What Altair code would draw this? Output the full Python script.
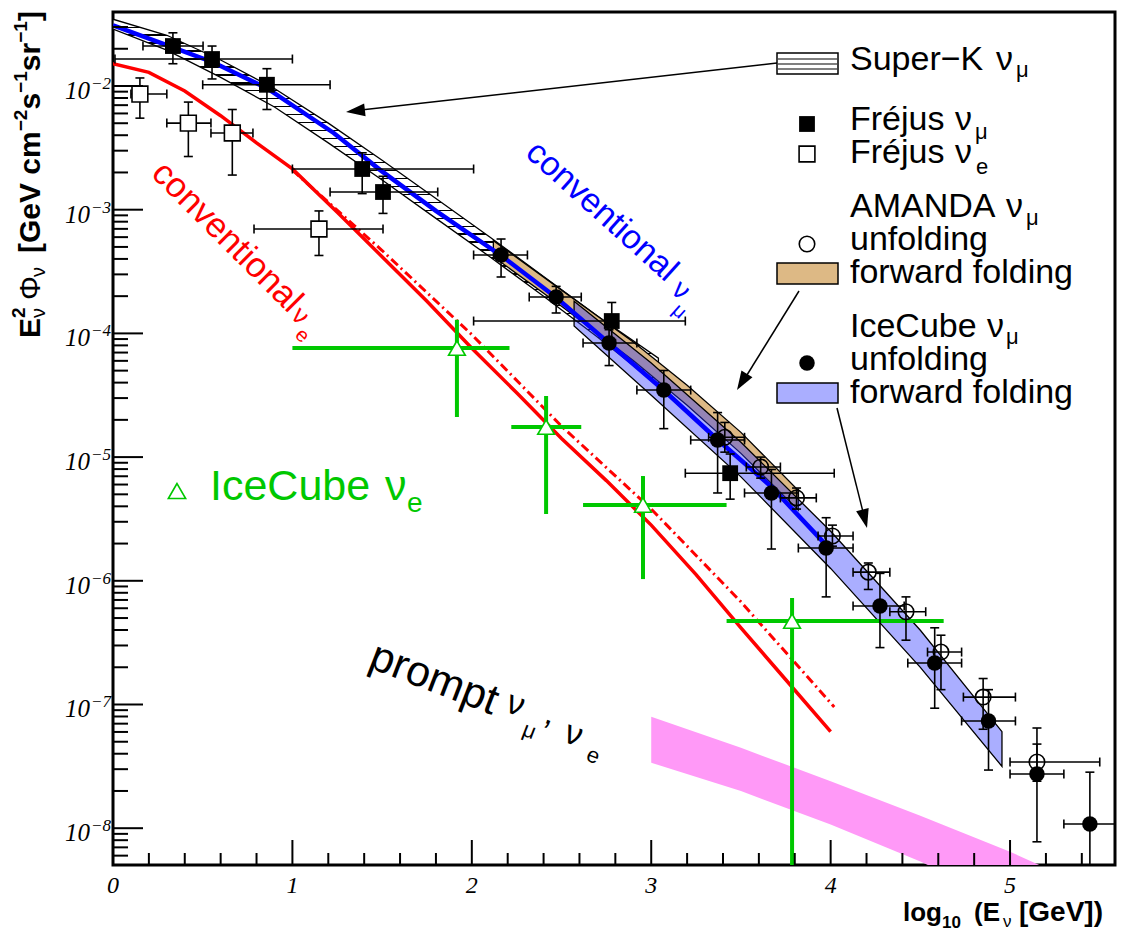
import altair as alt
import pandas as pd

# ---------------- values ----------------
# x: log10(E / GeV) ; y: log10(E^2 Phi [GeV cm^-2 s^-1 sr^-1])

# Super-K nu_mu band
sk_x = [0.0, 0.3, 0.6, 0.9, 1.2, 1.5, 1.8, 2.1, 2.4, 2.7, 3.04]
sk_hi = [-1.46, -1.59, -1.79, -2.02, -2.30, -2.60, -2.91, -3.22, -3.54, -3.86, -4.20]
sk_lo = [-1.54, -1.71, -1.93, -2.17, -2.46, -2.76, -3.07, -3.38, -3.70, -4.03, -4.42]

# AMANDA nu_mu forward folding band
amf_x = [2.12, 2.5, 2.9, 3.2, 3.5, 3.82]
amf_hi = [-3.25, -3.65, -4.07, -4.42, -4.80, -5.27]
amf_lo = [-3.38, -3.78, -4.22, -4.58, -4.97, -5.43]

# IceCube nu_mu forward folding band
icf_x = [2.57, 3.0, 3.5, 4.0, 4.5, 4.955]
icf_hi = [-3.74, -4.24, -4.88, -5.60, -6.40, -7.22]
icf_lo = [-3.94, -4.50, -5.16, -5.90, -6.70, -7.50]

# prompt nu_mu, nu_e band
pr_x = [3.0, 3.5, 4.0, 4.5, 5.0, 5.5]
pr_hi = [-7.10, -7.35, -7.62, -7.90, -8.19, -8.52]
pr_lo = [-7.47, -7.70, -7.97, -8.27, -8.60, -8.95]

# conventional nu_mu (blue)
cm_x = [0.0, 0.33, 0.56, 0.86, 1.23, 1.49, 1.8, 2.163, 2.47, 2.765, 3.07, 3.37, 3.67, 4.0]
cm_y = [-1.51, -1.685, -1.81, -2.02, -2.38, -2.68, -3.01, -3.37, -3.71, -4.08, -4.46, -4.86, -5.24, -5.75]

# conventional nu_e (red solid)
ce_x = [0.0, 0.2, 0.4, 0.6, 0.8, 1.0, 1.25, 1.5, 1.75, 2.0, 2.25, 2.5, 2.75, 3.0, 3.25, 3.5, 3.75, 4.0]
ce_y = [-1.82, -1.89, -2.04, -2.24, -2.46, -2.67, -3.02, -3.38, -3.74, -4.12, -4.48, -4.85, -5.19, -5.55,
        -5.95, -6.38, -6.80, -7.22]

# conventional nu_e (red dash-dot)
cd_x = [1.0, 1.5, 2.0, 2.5, 3.0, 3.5, 4.02]
cd_y = [-2.68, -3.33, -4.01, -4.75, -5.42, -6.17, -7.02]

# Frejus nu_mu (filled squares)
fm_x = [0.334, 0.552, 0.858, 1.389, 1.505, 2.78, 3.44]
fm_y = [-1.677, -1.782, -1.99, -2.671, -2.857, -3.90, -5.13]
fm_xlo = [0.167, 0.011, 0.50, 1.0, 1.21, 2.01, 3.19]
fm_xhi = [0.502, 1.0, 1.21, 2.01, 1.81, 3.19, 4.02]
fm_ylo = [-1.82, -1.943, -2.19, -2.87, -3.03, -4.05, -5.34]
fm_yhi = [-1.57, -1.677, -1.86, -2.54, -2.73, -3.75, -4.975]

# Frejus nu_e (open squares)
fe_x = [0.15, 0.42, 0.665, 1.148]
fe_y = [-2.065, -2.30, -2.38, -3.156]
fe_xlo = [0.10, 0.30, 0.546, 0.786]
fe_xhi = [0.30, 0.546, 0.78, 1.505]
fe_ylo = [-2.26, -2.57, -2.72, -3.37]
fe_yhi = [-1.935, -2.13, -2.19, -3.01]

# AMANDA nu_mu unfolding (open circles)
amu_x = [3.41, 3.61, 3.81, 4.01, 4.21, 4.42, 4.615, 4.85, 5.15]
amu_y = [-4.84, -5.08, -5.33, -5.638, -5.93, -6.25, -6.576, -6.94, -7.465]
amu_xlo = [3.32, 3.53, 3.72, 3.93, 4.125, 4.33, 4.54, 4.74, 5.0]
amu_xhi = [3.52, 3.72, 3.92, 4.125, 4.33, 4.53, 4.73, 5.03, 5.50]
amu_ylo = [-4.96, -5.17, -5.42, -5.72, -6.07, -6.48, -6.88, -7.2, -7.62]
amu_yhi = [-4.72, -5.0, -5.25, -5.55, -5.856, -6.13, -6.44, -6.79, -7.19]

# IceCube nu_mu unfolding (filled circles)
icu_x = [2.163, 2.47, 2.765, 3.07, 3.37, 3.67, 3.975, 4.275, 4.58, 4.88, 5.15, 5.445]
icu_y = [-3.366, -3.706, -4.078, -4.458, -4.862, -5.29, -5.735, -6.204, -6.665, -7.133, -7.562, -7.966]
icu_xlo = [2.01, 2.32, 2.62, 2.92, 3.22, 3.52, 3.82, 4.125, 4.43, 4.73, 5.0, 5.30]
icu_xhi = [2.31, 2.61, 2.92, 3.22, 3.52, 3.82, 4.125, 4.41, 4.73, 5.03, 5.30, 5.60]
icu_ylo = [-3.544, -3.835, -4.26, -4.77, -5.29, -5.743, -6.13, -6.54, -7.03, -7.53, -8.11, -8.6]
icu_yhi = [-3.237, -3.62, -3.97, -4.30, -4.64, -5.10, -5.49, -5.94, -6.38, -6.88, -7.32, -7.547]

# IceCube nu_e (green triangles)
ice_x = [1.917, 2.414, 2.954, 3.785]
ice_y = [-4.118, -4.757, -5.387, -6.325]
ice_xlo = [1.0, 2.22, 2.62, 3.42]
ice_xhi = [2.21, 2.61, 3.42, 4.63]
ice_ylo = [-4.676, -5.46, -5.986, -8.6]
ice_yhi = [-3.89, -4.506, -5.153, -6.14]

# axis ticks and labels
y_major_exp = [-8, -7, -6, -5, -4, -3, -2]
y_minor_mult = [2, 3, 4, 5, 6, 7, 8, 9]
y_minor_exp = [-9, -8, -7, -6, -5, -4, -3, -2]
x_major = [0, 1, 2, 3, 4, 5]
x_minor = [0.2, 0.4, 0.6, 0.8, 1.2, 1.4, 1.6, 1.8, 2.2, 2.4, 2.6, 2.8, 3.2, 3.4, 3.6, 3.8,
           4.2, 4.4, 4.6, 4.8, 5.2, 5.4]

# ---------------- styling / helpers ----------------
W, H = 1002, 853
OX, OY = 113, 12
GREEN = "#00c800"
TAN = "#ddb985"
PINK = "#ff99f7"
ICBLUE = "#2a34ff"
SANS = "Liberation Sans"
SERIF = "Liberation Serif"

xsc = alt.Scale(domain=[0.0, 5.585], nice=False, zero=False)
ysc = alt.Scale(type="log", domain=[10 ** -8.2975, 10 ** -1.4018], nice=False)


def X(f):
    return alt.X(f, type="quantitative", scale=xsc, axis=None)


def Y(f):
    return alt.Y(f, type="quantitative", scale=ysc, axis=None)


def PX(f):
    return alt.X(f, type="quantitative", scale=None, axis=None)


def PY(f):
    return alt.Y(f, type="quantitative", scale=None, axis=None)


def p10(v):
    return [10.0 ** a for a in v]


def band_df(xv, hi, lo):
    return pd.DataFrame({"x": xv, "hi": p10(hi), "lo": p10(lo)})


def curve_df(xv, yv):
    return pd.DataFrame({"x": xv, "y": p10(yv)})


def pts_df(x, y, xlo, xhi, ylo, yhi):
    return pd.DataFrame({"x": x, "y": p10(y), "xlo": xlo, "xhi": xhi,
                         "ylo": p10(ylo), "yhi": p10(yhi)})


def errbars(df, color, sw, cap):
    b = alt.Chart(df)
    out = [
        b.mark_rule(color=color, strokeWidth=sw, clip=True).encode(x=X("xlo"), x2="xhi", y=Y("y")),
        b.mark_rule(color=color, strokeWidth=sw, clip=True).encode(x=X("x"), y=Y("ylo"), y2="yhi"),
    ]
    if cap:
        tv = dict(orient="vertical", color=color, thickness=sw, size=cap, opacity=1, clip=True)
        th = dict(orient="horizontal", color=color, thickness=sw, size=cap, opacity=1, clip=True)
        out += [
            b.mark_tick(**tv).encode(x=X("xlo"), y=Y("y")),
            b.mark_tick(**tv).encode(x=X("xhi"), y=Y("y")),
            b.mark_tick(**th).encode(x=X("x"), y=Y("ylo")),
            b.mark_tick(**th).encode(x=X("x"), y=Y("yhi")),
        ]
    return out


def texts(rows, **kw):
    df = pd.DataFrame(rows, columns=["t", "px", "py", "fs"])
    df["px"] = df["px"] - OX
    df["py"] = df["py"] - OY
    kw.setdefault("align", "left")
    kw.setdefault("baseline", "alphabetic")
    kw.setdefault("font", SANS)
    return alt.Chart(df).mark_text(**kw).encode(
        x=PX("px"), y=PY("py"), text="t:N", size=alt.Size("fs:Q", scale=None, legend=None))


def pix(rows, cols):
    df = pd.DataFrame(rows, columns=cols)
    for c in cols:
        if c.startswith("x"):
            df[c] = df[c] - OX
        elif c.startswith("y"):
            df[c] = df[c] - OY
    return alt.Chart(df)


# hatch pattern for the Super-K band (horizontal lines)
N_H = 46
t_h = 1.3 / 366
stops = [alt.GradientStop(color="white", offset=0)]
for k in range(1, N_H):
    a = k / N_H
    stops += [alt.GradientStop(color="white", offset=a - t_h / 2),
              alt.GradientStop(color="black", offset=a - t_h / 2),
              alt.GradientStop(color="black", offset=a + t_h / 2),
              alt.GradientStop(color="white", offset=a + t_h / 2)]
stops.append(alt.GradientStop(color="white", offset=1))
hatch = alt.LinearGradient(gradient="linear", stops=stops, x1=0, x2=0, y1=0, y2=1)

layers = []

# bands
layers.append(alt.Chart(band_df(pr_x, pr_hi, pr_lo)).mark_area(fill=PINK, clip=True)
              .encode(x=X("x"), y=Y("hi"), y2="lo"))
layers.append(alt.Chart(band_df(sk_x, sk_hi, sk_lo)).mark_area(fill=hatch, stroke="black", strokeWidth=1.3, clip=True)
              .encode(x=X("x"), y=Y("hi"), y2="lo"))
layers.append(alt.Chart(band_df(amf_x, amf_hi, amf_lo)).mark_area(fill=TAN, stroke="black", strokeWidth=1.3, clip=True)
              .encode(x=X("x"), y=Y("hi"), y2="lo"))
layers.append(alt.Chart(band_df(icf_x, icf_hi, icf_lo)).mark_area(fill=ICBLUE, fillOpacity=0.4, stroke="black",
                                                                  strokeWidth=1.3, clip=True)
              .encode(x=X("x"), y=Y("hi"), y2="lo"))

# model curves
layers.append(alt.Chart(curve_df(cd_x, cd_y)).mark_line(color="#ff0000", strokeWidth=3, strokeDash=[9, 4, 2, 4], clip=True)
              .encode(x=X("x"), y=Y("y")))
layers.append(alt.Chart(curve_df(ce_x, ce_y)).mark_line(color="#ff0000", strokeWidth=3.5, clip=True)
              .encode(x=X("x"), y=Y("y")))
layers.append(alt.Chart(curve_df(cm_x, cm_y)).mark_line(color="#0000ff", strokeWidth=4.5, clip=True)
              .encode(x=X("x"), y=Y("y")))

# data points
ice = pts_df(ice_x, ice_y, ice_xlo, ice_xhi, ice_ylo, ice_yhi)
fm = pts_df(fm_x, fm_y, fm_xlo, fm_xhi, fm_ylo, fm_yhi)
fe = pts_df(fe_x, fe_y, fe_xlo, fe_xhi, fe_ylo, fe_yhi)
amu = pts_df(amu_x, amu_y, amu_xlo, amu_xhi, amu_ylo, amu_yhi)
icu = pts_df(icu_x, icu_y, icu_xlo, icu_xhi, icu_ylo, icu_yhi)

layers += errbars(ice, GREEN, 4, 0)
for d in (fm, fe, amu, icu):
    layers += errbars(d, "black", 1.6, 9)

layers.append(alt.Chart(ice).mark_point(shape="triangle-up", size=280, filled=True, fill="white", stroke=GREEN,
                                        strokeWidth=1.6, opacity=1).encode(x=X("x"), y=Y("y")))
layers.append(alt.Chart(fm).mark_point(shape="square", size=250, filled=True, color="black", opacity=1)
              .encode(x=X("x"), y=Y("y")))
layers.append(alt.Chart(fe).mark_point(shape="square", size=250, filled=True, fill="white", stroke="black",
                                       strokeWidth=1.6, opacity=1).encode(x=X("x"), y=Y("y")))
layers.append(alt.Chart(amu).mark_point(shape="circle", size=240, filled=False, stroke="black",
                                        strokeWidth=1.6, opacity=1).encode(x=X("x"), y=Y("y")))
layers.append(alt.Chart(icu).mark_point(shape="circle", size=240, filled=True, color="black", opacity=1)
              .encode(x=X("x"), y=Y("y")))

# ---------------- axes: ticks and labels ----------------
ymaj = pd.DataFrame({"y": [10.0 ** e for e in y_major_exp],
                     "base": ["10"] * len(y_major_exp),
                     "sup": ["\u2212" + str(-e) for e in y_major_exp]})
ymin = pd.DataFrame({"y": [m * 10.0 ** e for e in y_minor_exp for m in y_minor_mult]})
xmaj = pd.DataFrame({"x": x_major, "lab": [str(v) for v in x_major]})
xmin = pd.DataFrame({"x": x_minor})

layers.append(alt.Chart(ymaj).mark_rule(color="black", strokeWidth=2, clip=True)
              .encode(x=alt.value(0), x2=alt.value(30), y=Y("y")))
layers.append(alt.Chart(ymin).mark_rule(color="black", strokeWidth=2, clip=True)
              .encode(x=alt.value(0), x2=alt.value(15), y=Y("y")))
layers.append(alt.Chart(xmaj).mark_rule(color="black", strokeWidth=2)
              .encode(x=X("x"), y=alt.value(H), y2=alt.value(H - 25)))
layers.append(alt.Chart(xmin).mark_rule(color="black", strokeWidth=2)
              .encode(x=X("x"), y=alt.value(H), y2=alt.value(H - 12)))
layers.append(alt.Chart(ymaj).mark_text(align="right", baseline="alphabetic", dy=13, font=SERIF,
                                        fontStyle="italic", fontSize=25, color="black")
              .encode(x=alt.value(-23), y=Y("y"), text="base:N"))
layers.append(alt.Chart(ymaj).mark_text(align="left", baseline="alphabetic", dy=3, font=SERIF,
                                        fontStyle="italic", fontSize=17, color="black")
              .encode(x=alt.value(-22), y=Y("y"), text="sup:N"))
layers.append(alt.Chart(xmaj).mark_text(align="center", baseline="alphabetic", font=SERIF,
                                        fontStyle="italic", fontSize=24, color="black")
              .encode(x=X("x"), y=alt.value(893 - OY), text="lab:N"))

# axis titles
layers.append(texts([("E", 40, 338, 30), ("[GeV cm", 40, 253, 30), ("s", 40, 109.6, 30),
                     ("sr", 40, 71.2, 30), ("]", 40, 21.1, 30),
                     ("2", 25, 318, 19), ("\u22122", 27, 131.3, 19), ("\u22121", 27, 92.9, 19),
                     ("\u22121", 27, 42.8, 19)],
                    angle=270, fontWeight="bold", color="black"))
layers.append(texts([("\u03a6", 40, 300, 30), ("\u03bd", 45, 318, 20), ("\u03bd", 45, 277, 20)],
                    angle=270, color="black"))
layers.append(texts([("log", 903, 921, 26), ("10", 942, 928, 17), ("(E", 974, 921, 26),
                     ("[GeV])", 1019, 921, 28)], fontWeight="bold", color="black"))
layers.append(texts([("\u03bd", 1003, 927, 17)], color="black"))

# ---------------- in-plot annotations ----------------
layers.append(texts([("conventional", 524, 155, 34), ("\u03bd", 670, 292, 28), ("\u03bc", 671, 312, 20)],
                    angle=42, color="#0000ff"))
layers.append(texts([("conventional", 150, 175, 35), ("\u03bd", 290, 317, 26), ("e", 294, 336, 20)],
                    angle=45, color="#ff0000"))
layers.append(texts([("prompt", 367, 667, 43), ("\u03bd", 504, 711, 34), ("\u03bc", 521, 735, 22),
                     (",", 543, 722, 34), ("\u03bd", 562, 741, 34), ("e", 585, 760, 22)],
                    angle=21, color="black"))
layers.append(texts([("IceCube", 210, 500, 43), ("\u03bd", 385, 500, 43), ("e", 407, 512, 28)], color=GREEN))
layers.append(pix([(177, 491)], ["x", "y"]).mark_point(shape="triangle-up", size=300, filled=True, fill="white",
                                                      stroke=GREEN, strokeWidth=1.6, opacity=1)
              .encode(x=PX("x"), y=PY("y")))

# legend
layers.append(texts([("Super\u2212K", 850, 70, 34), ("Fr\u00e9jus", 850, 130, 34), ("Fr\u00e9jus", 850, 163, 34),
                     ("AMANDA", 850, 217, 34), ("unfolding", 850, 250, 34), ("forward folding", 850, 283, 34),
                     ("IceCube", 850, 337, 34), ("unfolding", 850, 370, 34), ("forward folding", 850, 403, 34),
                     ("\u03bd", 996, 70, 34), ("\u03bd", 955, 130, 34), ("\u03bd", 955, 163, 34),
                     ("\u03bd", 1006, 217, 34), ("\u03bd", 987, 337, 34),
                     ("\u03bc", 1016, 77, 22), ("\u03bc", 975, 139, 22), ("e", 976, 174, 22),
                     ("\u03bc", 1026, 225, 22), ("\u03bc", 1006, 344, 22)], color="black"))
boxes = pix([(777, 838, 53, 74, "white"), (777, 838, 263, 284, TAN)], ["x1", "x2", "y1", "y2", "c"])
layers.append(boxes.mark_rect(stroke="black", strokeWidth=1.5)
              .encode(x=PX("x1"), x2="x2", y=PY("y1"), y2="y2",
                      fill=alt.Fill("c:N", scale=None, legend=None)))
layers.append(pix([(777, 838, 383, 403)], ["x1", "x2", "y1", "y2"])
              .mark_rect(fill=ICBLUE, fillOpacity=0.4, stroke="black", strokeWidth=1.5)
              .encode(x=PX("x1"), x2="x2", y=PY("y1"), y2="y2"))
layers.append(pix([(778, 837, 59), (778, 837, 64), (778, 837, 69)], ["x1", "x2", "y"])
              .mark_rule(color="black", strokeWidth=1.2).encode(x=PX("x1"), x2="x2", y=PY("y")))
layers.append(pix([(807, 124)], ["x", "y"]).mark_point(shape="square", size=250, filled=True, color="black",
                                                      opacity=1).encode(x=PX("x"), y=PY("y")))
layers.append(pix([(807, 154)], ["x", "y"]).mark_point(shape="square", size=250, filled=True, fill="white",
                                                      stroke="black", strokeWidth=1.6, opacity=1)
              .encode(x=PX("x"), y=PY("y")))
layers.append(pix([(807, 244)], ["x", "y"]).mark_point(shape="circle", size=240, filled=False, stroke="black",
                                                      strokeWidth=1.6, opacity=1).encode(x=PX("x"), y=PY("y")))
layers.append(pix([(807, 363)], ["x", "y"]).mark_point(shape="circle", size=240, filled=True, color="black",
                                                      opacity=1).encode(x=PX("x"), y=PY("y")))

# arrows
arrows = pix([(777, 63, 352, 111, 263.5), (799, 291, 742, 383, 211.6), (837, 408, 865, 520, 166.0)],
             ["x1", "y1", "x2", "y2", "a"])
layers.append(arrows.mark_rule(color="black", strokeWidth=1.5)
              .encode(x=PX("x1"), y=PY("y1"), x2="x2", y2="y2"))
heads = pix([(346, 112, 263.5), (737, 390, 211.6), (867, 528, 166.0)], ["x", "y", "a"])
layers.append(heads.mark_point(shape="M0,0L0.34,1L-0.34,1Z", size=1444, filled=True, color="black", opacity=1)
              .encode(x=PX("x"), y=PY("y"), angle=alt.Angle("a:Q", scale=None)))

chart = alt.layer(*layers).properties(
    width=W, height=H,
    autosize=alt.AutoSizeParams(type="none"),
    padding={"left": 105, "top": 4, "right": 5, "bottom": 67},
).configure_view(stroke="black", strokeWidth=3)

chart.save("out.html", embed_options={"renderer": "svg", "actions": False})
